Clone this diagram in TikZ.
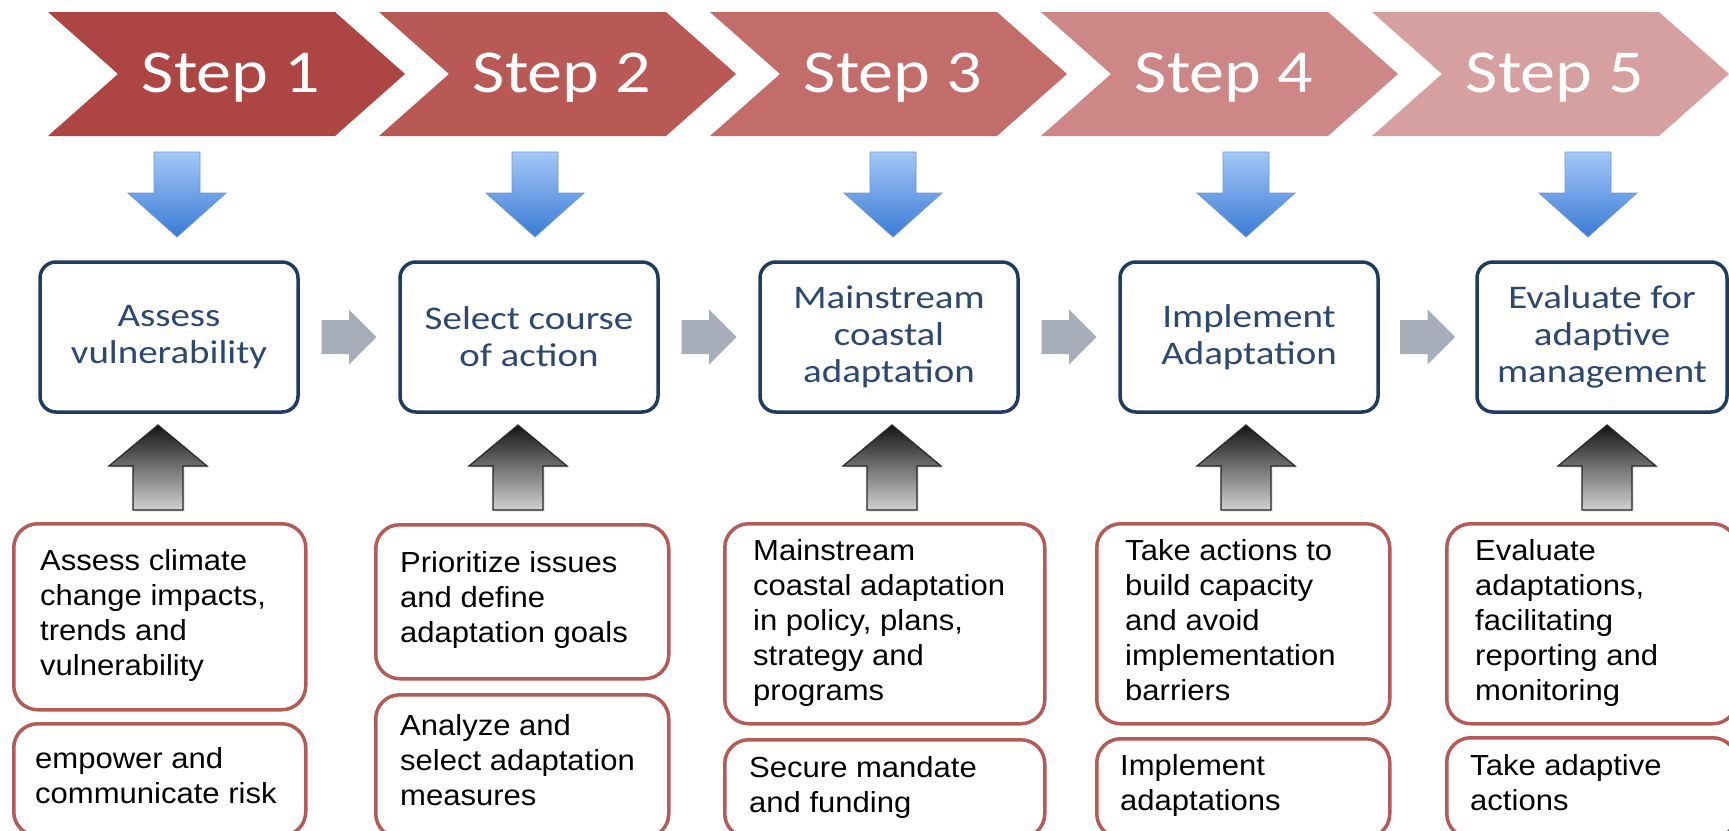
\documentclass[tikz,border=0pt]{standalone}
\usepackage{fontspec}
\newfontfamily\calfont[FakeStretch=1.18]{Carlito}
\newfontfamily\stepfont[FakeStretch=1.15]{Carlito}
\newfontfamily\arifont[FakeStretch=1.07]{Liberation Sans}
\usetikzlibrary{calc,shadows}
\definecolor{chevA}{HTML}{AD4643}
\definecolor{chevB}{HTML}{B85956}
\definecolor{chevC}{HTML}{C36D6B}
\definecolor{chevD}{HTML}{CD8786}
\definecolor{chevE}{HTML}{D7A0A0}
\definecolor{boxblue}{HTML}{1F3B5E}
\definecolor{txtblue}{HTML}{2C4770}
\definecolor{boxred}{HTML}{B45A57}
\definecolor{arrgray}{HTML}{A8AEB9}
\definecolor{arrtop}{HTML}{A3C7F7}
\definecolor{arrbot}{HTML}{3A7BD5}
\definecolor{arredge}{HTML}{6E98D2}
\newcommand\bluearrow[1]{\shadedraw[bluearr] (#1-23,152) -- (#1+23,152) -- (#1+23,193) -- (#1+49,193) -- (#1,237) -- (#1-49,193) -- (#1-23,193) -- cycle;}
\newcommand\grayup[1]{\shadedraw[grayarr] (#1,425) -- (#1+49,466) -- (#1+25,466) -- (#1+25,510) -- (#1-25,510) -- (#1-25,466) -- (#1-49,466) -- cycle;}
\begin{document}
\begin{tikzpicture}[x=1pt,y=-1pt,
  steptext/.style={text=white,font=\stepfont\fontsize{61}{70}\selectfont,anchor=base,inner sep=0pt},
  bluebox/.style={draw=boxblue,line width=3.5pt,rounded corners=16pt,fill=white,minimum width=258pt,minimum height=150pt,align=center,text=txtblue,font=\calfont\fontsize{33}{37}\selectfont,inner sep=0pt},
  redbox/.style={draw=boxred,line width=3.5pt,rounded corners=24pt,fill=white,inner sep=0pt,anchor=north west},
  redtext/.style={font=\arifont\fontsize{29}{35}\selectfont,align=left,inner sep=0pt,anchor=north west,text=black},
  bluearr/.style={top color=arrtop,bottom color=arrbot,draw=arredge,line width=0.8pt},
  grayarr/.style={top color=black!92,bottom color=black!18,draw=black!85,line width=1.2pt,drop shadow={opacity=0.25,shadow xshift=1.5pt,shadow yshift=-1.5pt}},
  rightarr/.style={fill=arrgray}]
\useasboundingbox (0,0) rectangle (1729,830);
\clip (0,0) rectangle (1729,830);
\fill[white] (0,0) rectangle (1729,830);
% chevrons
\foreach \i/\c in {1/chevA,2/chevB,3/chevC,4/chevD,5/chevE}{
  \pgfmathsetmacro\L{48+331*(\i-1)}
  \fill[\c] (\L,12) -- ++(287,0) -- ++(70,62) -- ++(-70,62) -- ++(-287,0) -- ++(70,-62) -- cycle;
  \node[steptext] (step\i) at (\L+183,92) {Step \i};
}
% blue boxes
\node[bluebox] (b1) at (169,337) {Assess\\vulnerability};
\node[bluebox] (b2) at (529,337) {Select course\\of action};
\node[bluebox] (b3) at (889,337) {Mainstream\\coastal\\adaptation};
\node[bluebox] (b4) at (1249,337) {Implement\\Adaptation};
\node[bluebox,minimum width=250pt] (b5) at (1602,337) {Evaluate for\\adaptive\\management};
% gray right arrows
\foreach \a/\b in {b1/b2,b2/b3,b3/b4,b4/b5}{
  \coordinate (m\a) at ($(\a.east)!0.5!(\b.west)$);
  \fill[rightarr] (m\a) ++(-27.5,-17) -- ++(27.5,0) -- ++(0,-10.5) -- ++(27.5,27.5) -- ++(-27.5,27.5) -- ++(0,-10.5) -- ++(-27.5,0) -- cycle;
}
% blue down arrows
\bluearrow{177}
\bluearrow{535}
\bluearrow{893}
\bluearrow{1246}
\bluearrow{1588}
% gray up arrows
\grayup{158}
\grayup{518}
\grayup{892}
\grayup{1246}
\grayup{1607}
% red boxes
\node[redbox,minimum width=292pt,minimum height=186pt] (r1a) at (12,522) {};
\node[redbox,minimum width=292pt,minimum height=112pt] (r1b) at (12,722) {};
\node[redbox,minimum width=293pt,minimum height=154pt] (r2a) at (374,523) {};
\node[redbox,minimum width=293pt,minimum height=143pt] (r2b) at (374,693) {};
\node[redbox,minimum width=320pt,minimum height=200pt] (r3a) at (723,522) {};
\node[redbox,minimum width=320pt,minimum height=98pt] (r3b) at (723,738) {};
\node[redbox,minimum width=293pt,minimum height=200pt] (r4a) at (1095,522) {};
\node[redbox,minimum width=293pt,minimum height=99pt] (r4b) at (1095,737) {};
\node[redbox,minimum width=290pt,minimum height=200pt] (r5a) at (1445,522) {};
\node[redbox,minimum width=290pt,minimum height=100pt] (r5b) at (1445,736) {};
% texts
\node[redtext] (t1a) at (40,549) {Assess climate\\change impacts,\\trends and\\vulnerability};
\node[redtext] (t1b) at (35,747) {empower and\\communicate risk};
\node[redtext] (t2a) at (400,551) {Prioritize issues\\and define\\adaptation goals};
\node[redtext] (t2b) at (400,714) {Analyze and\\select adaptation\\measures};
\node[redtext] (t3a) at (753,539) {Mainstream\\coastal adaptation\\in policy, plans,\\strategy and\\programs};
\node[redtext] (t3b) at (749,756) {Secure mandate\\and funding};
\node[redtext] (t4a) at (1125,539) {Take actions to\\build capacity\\and avoid\\implementation\\barriers};
\node[redtext] (t4b) at (1120,754) {Implement\\adaptations};
\node[redtext] (t5a) at (1475,539) {Evaluate\\adaptations,\\facilitating\\reporting and\\monitoring};
\node[redtext] (t5b) at (1470,754) {Take adaptive\\actions};
\end{tikzpicture}
\end{document}
